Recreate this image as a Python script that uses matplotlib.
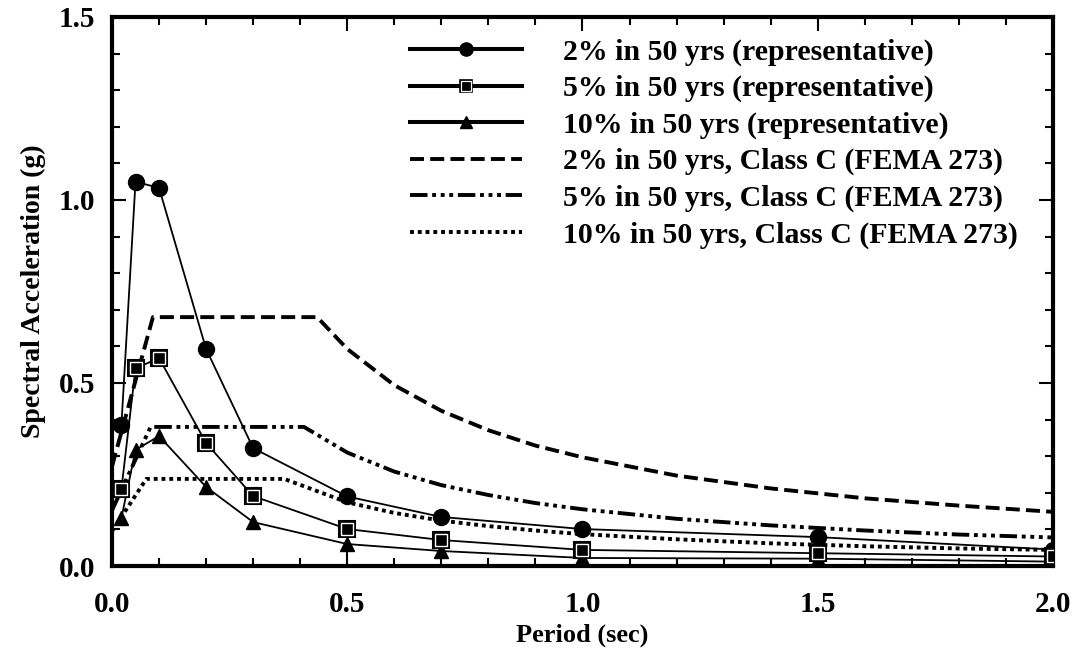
import matplotlib
matplotlib.use("Agg")
import matplotlib.pyplot as plt
from matplotlib.lines import Line2D
from matplotlib.legend_handler import HandlerTuple
from matplotlib.ticker import MultipleLocator, FormatStrFormatter

plt.rcParams['font.family'] = ['Liberation Serif', 'DejaVu Serif']
plt.rcParams['font.weight'] = 'bold'
plt.rcParams['axes.labelweight'] = 'bold'

# representative spectra
period = [0.02, 0.05, 0.1, 0.2, 0.3, 0.5, 0.7, 1.0, 1.5, 2.0]
rep_2pct = [0.385, 1.05, 1.033, 0.593, 0.322, 0.19, 0.134, 0.101, 0.079, 0.045]
rep_5pct = [0.21, 0.54, 0.568, 0.336, 0.191, 0.101, 0.071, 0.044, 0.035, 0.026]
rep_10pct = [0.131, 0.317, 0.355, 0.216, 0.12, 0.06, 0.041, 0.022, 0.02, 0.012]

# FEMA 273 class C spectra
fema_t_2pct = [0, 0.087, 0.436, 0.5, 0.6, 0.7, 0.8, 0.9, 1.0, 1.2, 1.4, 1.6, 1.8, 2.0]
fema_2pct = [0.272, 0.68, 0.68, 0.593, 0.494, 0.424, 0.371, 0.329, 0.297, 0.247, 0.212, 0.185, 0.165, 0.148]
fema_t_5pct = [0, 0.082, 0.408, 0.5, 0.6, 0.7, 0.8, 0.9, 1.0, 1.2, 1.4, 1.6, 1.8, 2.0]
fema_5pct = [0.152, 0.38, 0.38, 0.31, 0.258, 0.221, 0.194, 0.172, 0.155, 0.129, 0.111, 0.097, 0.086, 0.078]
fema_t_10pct = [0, 0.073, 0.366, 0.5, 0.6, 0.7, 0.8, 0.9, 1.0, 1.2, 1.4, 1.6, 1.8, 2.0]
fema_10pct = [0.095, 0.238, 0.238, 0.174, 0.145, 0.124, 0.109, 0.097, 0.087, 0.073, 0.062, 0.054, 0.048, 0.044]

labels = ["2% in 50 yrs (representative)",
          "5% in 50 yrs (representative)",
          "10% in 50 yrs (representative)",
          "2% in 50 yrs, Class C (FEMA 273)",
          "5% in 50 yrs, Class C (FEMA 273)",
          "10% in 50 yrs, Class C (FEMA 273)"]

dash_2 = (0, (3.6, 1.6))
dash_5 = (0, (4.5, 1.2, 1, 1.2, 1, 1.2, 1, 1.2))
dash_10 = (0, (1, 1))
fema_lw = 2.8

fig = plt.figure(figsize=(10.81, 6.58), dpi=100)
ax = fig.add_axes([0.1036, 0.1398, 0.8705, 0.8344])

ax.plot(fema_t_2pct, fema_2pct, color='black', lw=fema_lw, linestyle=dash_2, zorder=2)
ax.plot(fema_t_5pct, fema_5pct, color='black', lw=fema_lw, linestyle=dash_5, zorder=2)
ax.plot(fema_t_10pct, fema_10pct, color='black', lw=fema_lw, linestyle=dash_10, zorder=2)

ax.plot(period, rep_2pct, color='black', lw=1.3, marker='o', ms=11.5, zorder=3)
ax.plot(period, rep_5pct, color='black', lw=1.3, marker='s', ms=11, mfc='black', mec='black',
        mew=1.5, zorder=3)
ax.plot(period, rep_5pct, color='none', marker='s', ms=8, mfc='black', mec='white', mew=1.0, zorder=4)
ax.plot(period, rep_10pct, color='black', lw=1.3, marker='^', ms=10, zorder=3)

ax.set_xlim(0, 2.0)
ax.set_ylim(0, 1.5)
ax.xaxis.set_major_locator(MultipleLocator(0.5))
ax.xaxis.set_minor_locator(MultipleLocator(0.1))
ax.yaxis.set_major_locator(MultipleLocator(0.5))
ax.yaxis.set_minor_locator(MultipleLocator(0.1))
ax.xaxis.set_major_formatter(FormatStrFormatter('%.1f'))
ax.yaxis.set_major_formatter(FormatStrFormatter('%.1f'))
ax.tick_params(which='both', direction='in', top=True, right=True, width=1.5, labelsize=21)
ax.tick_params(which='major', length=10)
ax.tick_params(which='minor', length=6)
ax.tick_params(axis='x', pad=18)
ax.tick_params(axis='y', pad=12)
for s in ax.spines.values():
    s.set_linewidth(3)

ax.set_xlabel("Period (sec)", fontsize=19, labelpad=4)
ax.set_ylabel("Spectral Acceleration (g)", fontsize=20, labelpad=9)

# legend handles
h1 = Line2D([], [], color='black', lw=2.9, marker='o', ms=9.5)
h2a = Line2D([], [], color='black', lw=2.9, marker='s', ms=9, mfc='black', mec='black', mew=1.2)
h2b = Line2D([], [], color='none', marker='s', ms=6.5, mfc='black', mec='white', mew=0.9)
h3 = Line2D([], [], color='black', lw=2.9, marker='^', ms=9)
h4 = Line2D([], [], color='black', lw=fema_lw, linestyle=dash_2)
h5 = Line2D([], [], color='black', lw=fema_lw, linestyle=dash_5)
h6 = Line2D([], [], color='black', lw=fema_lw, linestyle=dash_10)
ax.legend([h1, (h2a, h2b), h3, h4, h5, h6], labels,
          handler_map={tuple: HandlerTuple(ndivide=1, pad=0)},
          loc='upper left', bbox_to_anchor=(0.317, 0.961), frameon=False,
          fontsize=21.5, handlelength=3.75, handletextpad=1.37, labelspacing=0.31,
          borderpad=0, borderaxespad=0)

fig.savefig("out.png", dpi=100)
